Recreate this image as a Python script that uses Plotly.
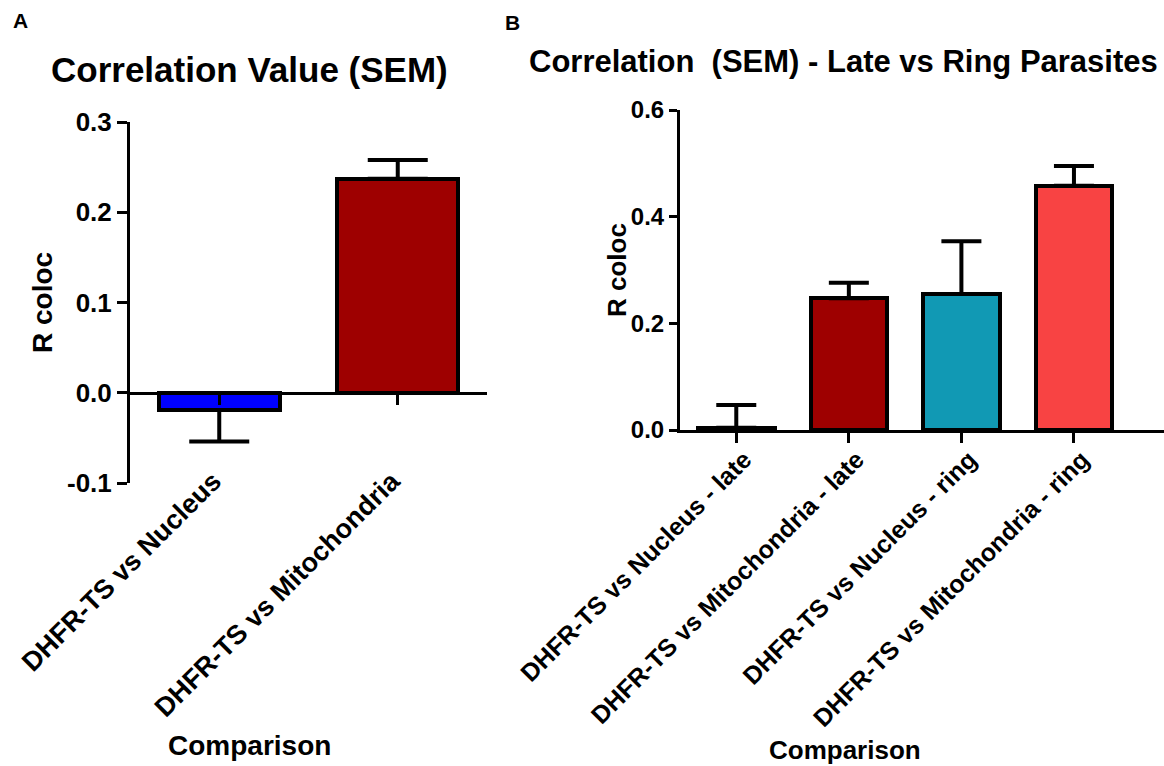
import plotly.graph_objects as go

W, H = 1164, 766
FONT = "Liberation Sans, Arial, sans-serif"

# ---------------- data ----------------
cats_a = ["DHFR-TS vs Nucleus", "DHFR-TS vs Mitochondria"]
mean_a = [-0.019, 0.237]
sem_a = [0.035, 0.021]
colors_a = ["#0000FF", "#9E0000"]

cats_b = ["DHFR-TS vs Nucleus - late", "DHFR-TS vs Mitochondria - late",
          "DHFR-TS vs Nucleus - ring", "DHFR-TS vs Mitochondria - ring"]
mean_b = [0.004, 0.247, 0.255, 0.458]
sem_b = [0.043, 0.029, 0.099, 0.037]
colors_b = ["#FFFFFF", "#9E0000", "#1199B4", "#F84343"]

yticks_a = [-0.1, 0.0, 0.1, 0.2, 0.3]
yticks_b = [0.0, 0.2, 0.4, 0.6]


def px(x):
    return x / W


def py(y):
    return 1 - y / H


def up(m, s):
    return [si if mi >= 0 else 0 for mi, si in zip(m, s)]


def down(m, s):
    return [si if mi < 0 else 0 for mi, si in zip(m, s)]


idx_a = list(range(len(cats_a)))
idx_b = list(range(len(cats_b)))

fig = go.Figure()
fig.add_trace(go.Bar(
    x=idx_a, y=mean_a, width=0.68, xaxis="x", yaxis="y",
    marker=dict(color=colors_a, line=dict(color="black", width=4)),
    error_y=dict(type="data", symmetric=False, array=up(mean_a, sem_a),
                 arrayminus=down(mean_a, sem_a), color="black", thickness=4, width=30),
    showlegend=False, hoverinfo="skip"))
# helper trace so the zero-line tick axis exists
fig.add_trace(go.Scatter(x=[], y=[], xaxis="x3", yaxis="y", showlegend=False))

fig.add_trace(go.Bar(
    x=idx_b, y=mean_b, width=0.68, xaxis="x2", yaxis="y2",
    marker=dict(color=colors_b, line=dict(color="black", width=4)),
    error_y=dict(type="data", symmetric=False, array=up(mean_b, sem_b),
                 arrayminus=down(mean_b, sem_b), color="black", thickness=4, width=20),
    showlegend=False, hoverinfo="skip"))

ya_dom = [py(483), py(122)]
yr_a = [-0.1, 0.3]
zero_pos = ya_dom[0] + (0 - yr_a[0]) / (yr_a[1] - yr_a[0]) * (ya_dom[1] - ya_dom[0])

axis_common = dict(showgrid=False, zeroline=False, linecolor="black", linewidth=3,
                   tickcolor="black", tickwidth=3, automargin=False)

fig.update_layout(
    width=W, height=H, margin=dict(l=0, r=0, t=0, b=0, autoexpand=False),
    paper_bgcolor="white", plot_bgcolor="white",
    font=dict(family=FONT, color="black"),
    bargap=0,
    xaxis=dict(domain=[px(130), px(487)], range=[-0.5, 1.5], anchor="y",
               tickmode="array", tickvals=idx_a, ticktext=cats_a, tickangle=-45,
               ticks="", showline=False, showgrid=False, zeroline=False, automargin=False,
               ticklabelstandoff=-24, ticklabelshift=-6,
               tickfont=dict(size=27, family=FONT, weight="bold")),
    xaxis3=dict(overlaying="x", range=[-0.5, 1.5], anchor="free", position=zero_pos,
                tickmode="array", tickvals=idx_a, showticklabels=False,
                ticks="outside", ticklen=10, showline=True, **axis_common),
    yaxis=dict(domain=ya_dom, range=yr_a, anchor="x",
               tickmode="array", tickvals=yticks_a,
               ticktext=[f"{v:.1f}" for v in yticks_a],
               ticks="outside", ticklen=10, showline=True,
               tickfont=dict(size=26, family=FONT, weight="bold"), **axis_common),
    xaxis2=dict(domain=[px(680), 1.0], range=[-0.5, 3.8], anchor="y2",
                tickmode="array", tickvals=idx_b, ticktext=cats_b, tickangle=-45,
                ticks="outside", ticklen=10, showline=True,
                ticklabelstandoff=-8, ticklabelshift=8,
                tickfont=dict(size=25, family=FONT, weight="bold"), **axis_common),
    yaxis2=dict(domain=[py(430), py(110)], range=[0, 0.6], anchor="x2",
                tickmode="array", tickvals=yticks_b,
                ticktext=[f"{v:.1f}" for v in yticks_b],
                ticks="outside", ticklen=8, showline=True,
                tickfont=dict(size=24, family=FONT, weight="bold"), **axis_common),
)

ann = [
    dict(text="A", x=px(20), y=py(21), size=21),
    dict(text="B", x=px(512), y=py(22), size=21),
    dict(text="Correlation Value (SEM)", x=px(250), y=py(69), size=35),
    dict(text="Correlation  (SEM) - Late vs Ring Parasites", x=px(843), y=py(62), size=31),
    dict(text="Comparison", x=px(250), y=py(745), size=28),
    dict(text="Comparison", x=px(845), y=py(750), size=26),
    dict(text="R coloc", x=px(42), y=py(302), size=28, angle=-90),
    dict(text="R coloc", x=px(617), y=py(270), size=26, angle=-90),
]
for a in ann:
    fig.add_annotation(text=a["text"].replace("  ", "&nbsp; "), x=a["x"], y=a["y"],
                       xref="paper", yref="paper", showarrow=False,
                       xanchor="center", yanchor="middle", textangle=a.get("angle", 0),
                       font=dict(size=a["size"], family=FONT, color="black", weight="bold"))

fig.write_html("out.html")
